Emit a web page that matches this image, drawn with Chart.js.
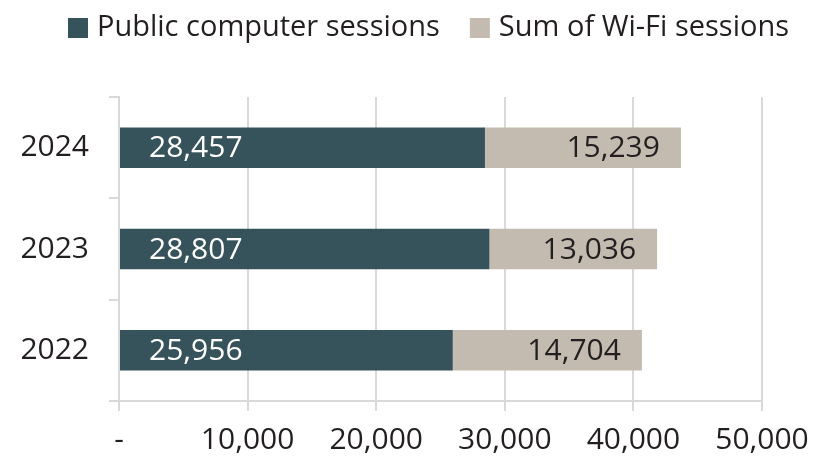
<!DOCTYPE html>
<html>
<head>
<meta charset="utf-8">
<script src="https://cdn.jsdelivr.net/npm/chart.js@4"></script>
<style>
  html, body { margin: 0; padding: 0; background: #fff; }
  #wrap { width: 824px; height: 460px; }
</style>
</head>
<body>
<div id="wrap"><canvas id="chart" width="824" height="460"></canvas></div>
<script>
// ── Data ──
const years = ['2024', '2023', '2022'];
const publicSessions = [28457, 28807, 25956];
const wifiSessions = [15239, 13036, 14704];
const seriesNames = ['Public computer sessions', 'Sum of Wi-Fi sessions'];
const xTicks = [0, 10000, 20000, 30000, 40000, 50000];

const FONT = 'Open Sans';
const TEXT = '#231f20';
const GRID = '#d9d9d9';

// ── Legend drawn on top, one row ──
const topLegend = {
    id: 'topLegend',
    afterDraw(chart) {
        const ctx = chart.ctx;
        ctx.save();
        ctx.font = `29px "${FONT}"`;
        ctx.textBaseline = 'middle';
        ctx.textAlign = 'left';
        let x = 68;
        chart.data.datasets.forEach(ds => {
            ctx.fillStyle = ds.backgroundColor;
            ctx.fillRect(x, 18, 20, 20);
            ctx.fillStyle = TEXT;
            ctx.fillText(ds.label, x + 29, 28);
            x += 29 + ctx.measureText(ds.label).width + 30;
        });
        ctx.restore();
    }
};

// ── Value labels inside bars ──
const barLabels = {
    id: 'barLabels',
    afterDatasetsDraw(chart) {
        const ctx = chart.ctx;
        ctx.save();
        ctx.font = `30px "${FONT}"`;
        ctx.textBaseline = 'middle';
        chart.data.datasets.forEach((ds, i) => {
            chart.getDatasetMeta(i).data.forEach((bar, j) => {
                const txt = ds.data[j].toLocaleString('en-US');
                if (i === 0) {
                    ctx.fillStyle = '#ffffff';
                    ctx.textAlign = 'left';
                    ctx.fillText(txt, bar.base + 29, bar.y + 1);
                } else {
                    ctx.fillStyle = TEXT;
                    ctx.textAlign = 'right';
                    ctx.fillText(txt, bar.x - 21, bar.y + 1);
                }
            });
        });
        ctx.restore();
    }
};

new Chart(document.getElementById('chart'), {
    type: 'bar',
    data: {
        labels: years,
        datasets: [
            { label: seriesNames[0], data: publicSessions, backgroundColor: '#36535b' },
            { label: seriesNames[1], data: wifiSessions, backgroundColor: '#c3bbaf' }
        ]
    },
    options: {
        indexAxis: 'y',
        responsive: false,
        animation: false,
        layout: { padding: { left: 0, right: 62, top: 97, bottom: 0 } },
        datasets: { bar: { categoryPercentage: 1, barPercentage: 0.4 } },
        plugins: {
            legend: { display: false },
            tooltip: { enabled: false }
        },
        scales: {
            x: {
                stacked: true,
                min: 0,
                max: 50000,
                afterBuildTicks: scale => { scale.ticks = xTicks.map(v => ({ value: v })); },
                afterFit: scale => { scale.height = 59; },
                grid: { color: GRID, lineWidth: 2, tickLength: 10 },
                border: { color: GRID, width: 2 },
                ticks: {
                    font: { family: FONT, size: 30 },
                    color: TEXT,
                    padding: 11,
                    maxRotation: 0,
                    callback: v => v === 0 ? '-' : v.toLocaleString('en-US')
                }
            },
            y: {
                stacked: true,
                afterFit: scale => { scale.width = 119; },
                grid: { color: GRID, lineWidth: 2, tickLength: 10, drawOnChartArea: false, offset: true },
                border: { color: GRID, width: 2 },
                ticks: {
                    font: { family: FONT, size: 30 },
                    color: TEXT,
                    padding: 20
                }
            }
        }
    },
    plugins: [topLegend, barLabels]
});
</script>
</body>
</html>
